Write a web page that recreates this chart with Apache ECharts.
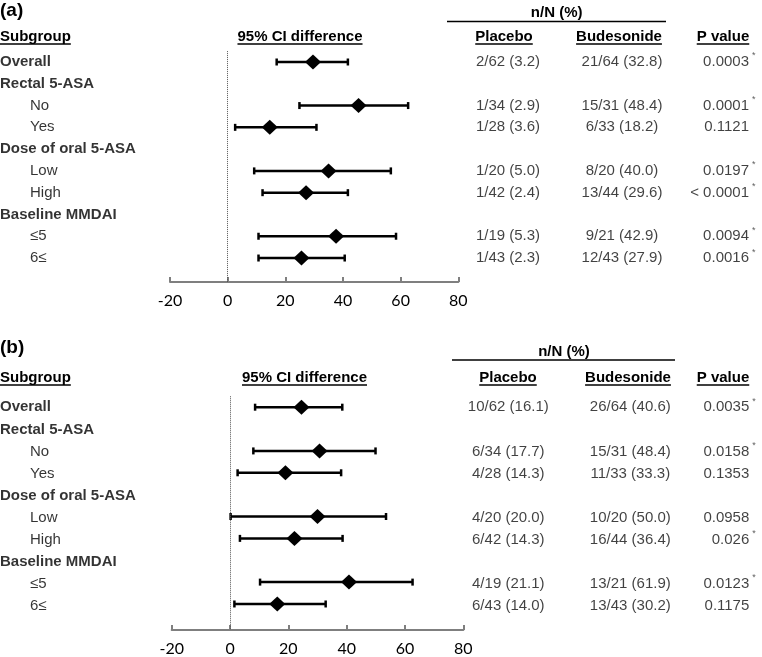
<!DOCTYPE html>
<html><head><meta charset="utf-8">
<script src="https://cdn.jsdelivr.net/npm/echarts@6/dist/echarts.min.js"></script>
<style>html,body{margin:0;padding:0;background:#fff}#c{width:762px;height:657px}</style>
</head><body><div id="c"></div>
<script>
// ---------- data ----------
const subgroups = ['Overall','Rectal 5-ASA','No','Yes','Dose of oral 5-ASA','Low','High','Baseline MMDAI','\u22645','6\u2264'];
const headerRows = [true,true,false,false,true,false,false,true,false,false];
const tickValues = [-20,0,20,40,60,80];
const tableColumns = ['Placebo','Budesonide','P value'];

// panel (a)
const estA  = [29.6, null, 45.4, 14.6, null, 35.0, 27.2, null, 37.6, 25.6];
const lowA  = [17.0, null, 24.9,  2.6, null,  9.2, 12.1, null, 10.7, 10.7];
const highA = [41.7, null, 62.6, 30.8, null, 56.6, 41.7, null, 58.4, 40.6];
const placeboA = ['2/62 (3.2)','','1/34 (2.9)','1/28 (3.6)','','1/20 (5.0)','1/42 (2.4)','','1/19 (5.3)','1/43 (2.3)'];
const budA     = ['21/64 (32.8)','','15/31 (48.4)','6/33 (18.2)','','8/20 (40.0)','13/44 (29.6)','','9/21 (42.9)','12/43 (27.9)'];
const pA       = ['0.0003','','0.0001','0.1121','','0.0197','< 0.0001','','0.0094','0.0016'];
const sigA     = [1,0,1,0,0,1,1,0,1,1];

// panel (b)
const estB  = [24.5, null, 30.7, 19.0, null, 30.0, 22.1, null, 40.8, 16.2];
const lowB  = [ 8.6, null,  8.0,  2.6, null,  0.2,  3.4, null, 10.3,  1.5];
const highB = [38.5, null, 49.9, 38.1, null, 53.5, 38.6, null, 62.6, 32.8];
const placeboB = ['10/62 (16.1)','','6/34 (17.7)','4/28 (14.3)','','4/20 (20.0)','6/42 (14.3)','','4/19 (21.1)','6/43 (14.0)'];
const budB     = ['26/64 (40.6)','','15/31 (48.4)','11/33 (33.3)','','10/20 (50.0)','16/44 (36.4)','','13/21 (61.9)','13/43 (30.2)'];
const pB       = ['0.0035','','0.0158','0.1353','','0.0958','0.026','','0.0123','0.1175'];
const sigB     = [1,0,1,0,0,0,1,0,1,0];

// ---------- layout ----------
const FONT = '"Liberation Sans", Arial, sans-serif';
const panels = [
  {tag:'(a)', est:estA, low:lowA, high:highA, cols:[placeboA,budA,pA], sig:sigA,
   L:{tagY:11, headY:37, forestLeft:170, forestRight:458.3, rowTop:62, rowStep:21.78, axisY:282,
      ciX:300, tableLeft:508, tableRight:736, pOff:13, headX:[504,619,723], nnX:556.7, nnY:13, nnLine:[447,666,21.5]}},
  {tag:'(b)', est:estB, low:lowB, high:highB, cols:[placeboB,budB,pB], sig:sigB,
   L:{tagY:348, headY:378, forestLeft:171.7, forestRight:463.3, rowTop:407.3, rowStep:22.08, axisY:632.3,
      ciX:304.5, tableLeft:508.3, tableRight:752.3, pOff:-3, headX:[508,628,723], nnX:564, nnY:351.7, nnLine:[452,675,360]}}
];

const mctx = document.createElement('canvas').getContext('2d');
function tw(t, font){ mctx.font = font; return mctx.measureText(t).width; }

const option = {animation:false, backgroundColor:'#fff', textStyle:{fontFamily:FONT},
  grid:[], xAxis:[], yAxis:[], series:[], graphic:{elements:[]}};

const BOLD15 = 'bold 15px ' + FONT;
function underlinedText(text, x, y, align){
  const w = tw(text, BOLD15);
  const x1 = align === 'left' ? x : x - w/2;
  option.graphic.elements.push({type:'text', x:x, y:y, style:{text:text, fill:'#000', font:BOLD15, align:align, verticalAlign:'middle'}});
  option.graphic.elements.push({type:'line', shape:{x1:x1, y1:y+7, x2:x1+w, y2:y+7}, style:{stroke:'#000', lineWidth:1.3}});
}

panels.forEach((P, k) => {
  const L = P.L;
  const yMax = (L.axisY - L.rowTop) / L.rowStep;
  const gridTop = L.rowTop - 0.5 * L.rowStep;
  const gridH = L.axisY - gridTop;
  const base = k * 3;
  option.grid.push({left:0, width:150, top:gridTop, height:gridH});
  option.grid.push({left:L.forestLeft, width:L.forestRight - L.forestLeft, top:gridTop, height:gridH});
  option.grid.push({left:L.tableLeft, width:L.tableRight - L.tableLeft, top:gridTop, height:gridH});
  for (let g = 0; g < 3; g++) option.yAxis.push({gridIndex:base+g, type:'value', inverse:true, min:-0.5, max:yMax, show:false});
  option.xAxis.push({gridIndex:base, type:'value', min:0, max:1, show:false});
  option.xAxis.push({gridIndex:base+1, type:'value', min:tickValues[0], max:tickValues[tickValues.length-1],
    interval:tickValues[1]-tickValues[0],
    axisLine:{show:true, onZero:false, lineStyle:{color:'#7f7f7f', width:2}},
    axisTick:{show:true, inside:true, length:5, lineStyle:{color:'#7f7f7f', width:2}},
    axisLabel:{color:'#000', fontFamily:'Lato', fontSize:16, margin:11},
    splitLine:{show:false}});
  option.xAxis.push({gridIndex:base+2, type:'category', data:tableColumns, boundaryGap:false, show:false});

  // row labels
  option.series.push({type:'scatter', xAxisIndex:base, yAxisIndex:base, symbolSize:0, silent:true,
    data: subgroups.map((s,i) => ({value:[0,i], name:s,
      label:{fontWeight: headerRows[i] ? 'bold' : 'normal', offset:[headerRows[i] ? 0 : 30, 0]}})),
    label:{show:true, position:[0,0], align:'left', verticalAlign:'middle', formatter:'{b}', fontSize:15, color:'#000', fontFamily:FONT}});

  // CI bars
  const ciData = [];
  P.est.forEach((e,i) => { if (e !== null) ciData.push([P.low[i], P.high[i], i]); });
  option.series.push({type:'custom', xAxisIndex:base+1, yAxisIndex:base+1, clip:false, silent:true,
    encode:{x:[0,1], y:2}, data:ciData,
    renderItem:(params, api) => {
      const y = api.value(2);
      const a = api.coord([api.value(0), y]);
      const b = api.coord([api.value(1), y]);
      const h = 3.5, st = {stroke:'#000', lineWidth:2.5};
      return {type:'group', children:[
        {type:'line', shape:{x1:a[0], y1:a[1], x2:b[0], y2:b[1]}, style:st},
        {type:'line', shape:{x1:a[0], y1:a[1]-h, x2:a[0], y2:a[1]+h}, style:st},
        {type:'line', shape:{x1:b[0], y1:b[1]-h, x2:b[0], y2:b[1]+h}, style:st}]};
    }});
  // point estimates + reference line at 0
  const ptData = [];
  P.est.forEach((e,i) => { if (e !== null) ptData.push([e, i]); });
  option.series.push({type:'scatter', xAxisIndex:base+1, yAxisIndex:base+1, z:5, silent:true,
    symbol:'diamond', symbolSize:[16,15], itemStyle:{color:'#000', opacity:1}, data:ptData,
    markLine:{silent:true, symbol:'none', label:{show:false}, animation:false,
      lineStyle:{type:'dotted', color:'#555', width:1}, data:[{xAxis:0}]}});

  // table columns
  P.cols.forEach((col, c) => {
    const d = [];
    col.forEach((t,i) => { if (t) d.push({value:[c, i], name:t}); });
    option.series.push({type:'scatter', xAxisIndex:base+2, yAxisIndex:base+2, symbolSize:0, silent:true, data:d,
      label:{show:true, position:[0,0], formatter:'{b}', align: c === 2 ? 'right' : 'center', verticalAlign:'middle',
        offset:[c === 2 ? L.pOff : 0, 0], fontSize:15, color:'#111', fontFamily:FONT}});
  });
  const ast = [];
  P.sig.forEach((s,i) => { if (s) ast.push({value:[2, i], name:'*'}); });
  option.series.push({type:'scatter', xAxisIndex:base+2, yAxisIndex:base+2, symbolSize:0, silent:true, data:ast,
    label:{show:true, position:[0,0], formatter:'{b}', align:'left', verticalAlign:'middle',
      offset:[L.pOff + 3, -6], fontSize:9, color:'#333', fontFamily:FONT}});

  // headers
  option.graphic.elements.push({type:'text', x:0, y:L.tagY, style:{text:P.tag, fill:'#000', font:'bold 19px ' + FONT, align:'left', verticalAlign:'middle'}});
  underlinedText('Subgroup', 0, L.headY, 'left');
  underlinedText('95% CI difference', L.ciX, L.headY, 'center');
  tableColumns.forEach((h, c) => underlinedText(h, L.headX[c], L.headY, 'center'));
  option.graphic.elements.push({type:'text', x:L.nnX, y:L.nnY, style:{text:'n/N (%)', fill:'#000', font:BOLD15, align:'center', verticalAlign:'middle'}});
  option.graphic.elements.push({type:'line', shape:{x1:L.nnLine[0], y1:L.nnLine[2], x2:L.nnLine[1], y2:L.nnLine[2]}, style:{stroke:'#000', lineWidth:1.5}});
});

const chart = echarts.init(document.getElementById('c'), null, {renderer:'canvas'});
chart.setOption(option);
</script></body></html>
